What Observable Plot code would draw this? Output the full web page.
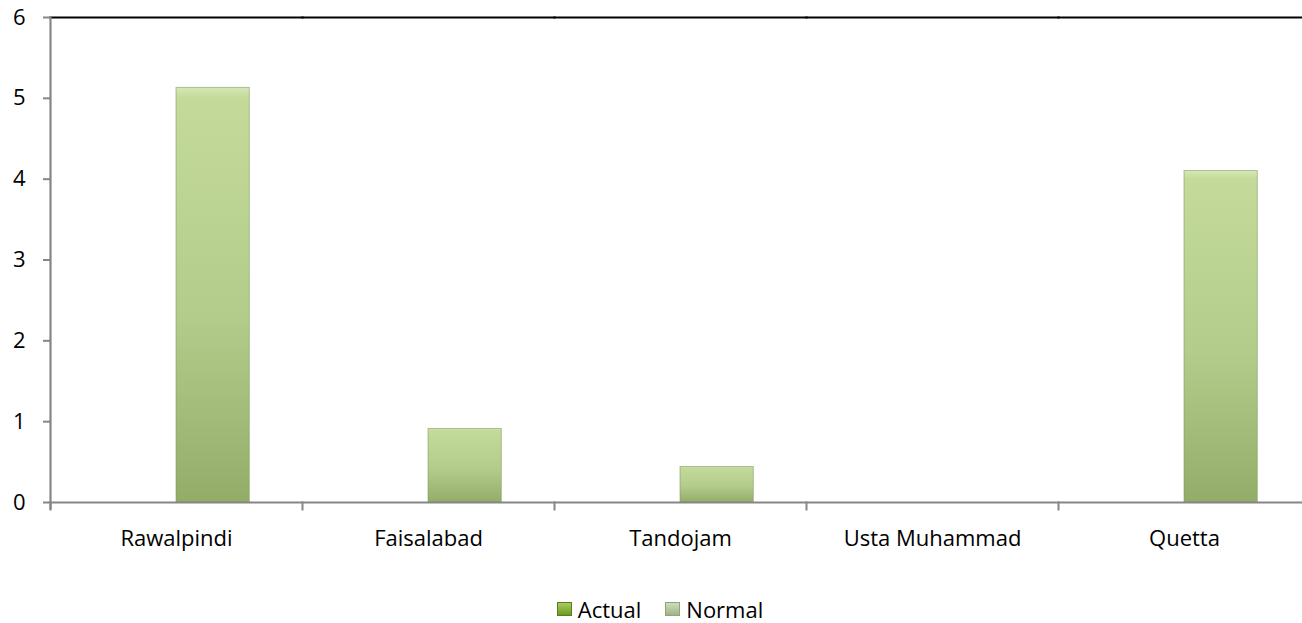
<!DOCTYPE html>
<html><head><meta charset="utf-8">
<script src="https://cdn.jsdelivr.net/npm/d3@7"></script>
<script src="https://cdn.jsdelivr.net/npm/@observablehq/plot@0.6"></script>
<style>
html,body{margin:0;padding:0;background:#fff;overflow:hidden;width:1302px;height:623px}
body{font-family:"Open Sans",sans-serif;position:relative}
#chart{position:absolute;left:0;top:0}
#chart svg{max-width:none !important}
#legend{position:absolute;left:0;width:1302px;top:594px;display:flex;justify-content:center;padding-left:18px;box-sizing:border-box;font-size:22px;color:#000}
.item{display:flex;align-items:center;margin:0 12px}
.sw{width:15px;height:14px;margin-right:6px;box-sizing:border-box}
</style></head><body>
<div id="chart"></div>
<div id="legend"></div>
<script>
const categories = ["Rawalpindi", "Faisalabad", "Tandojam", "Usta Muhammad", "Quetta"];
const series = ["Actual", "Normal"];
const actual = [0, 0, 0, 0, 0];
const normal = [5.13, 0.91, 0.44, 0, 4.1];
const yTicks = [0, 1, 2, 3, 4, 5, 6];

const actualData = categories.map((c, i) => ({category: c, series: "Actual", value: actual[i]}));
const normalData = categories.map((c, i) => ({category: c, series: "Normal", value: normal[i]}));

const plot = Plot.plot({
  width: 1310,
  height: 570,
  marginLeft: 50,
  marginRight: 0,
  marginTop: 17,
  marginBottom: 68,
  style: {fontFamily: "'Open Sans', sans-serif", fontSize: "22px", color: "#000", background: "transparent", overflow: "visible", maxWidth: "none"},
  fx: {domain: categories, paddingInner: 0, paddingOuter: 0, round: false, label: null},
  x: {domain: series, paddingInner: 0, paddingOuter: 0.72, round: false, axis: null},
  y: {domain: [0, 6], label: null},
  marks: [
    Plot.barY(actualData, {fx: "category", x: "series", y: "value", fill: "url(#gradA)", filter: d => d.value > 0}),
    Plot.barY(normalData, {fx: "category", x: "series", y: "value", fill: "url(#gradN)", stroke: "#7d9858", strokeWidth: 0.8, strokeOpacity: 0.7, filter: d => d.value > 0, style: "filter:url(#shadow)"}),
    Plot.frame({anchor: "top", stroke: "#000", strokeWidth: 2.2}),
    Plot.ruleY([0], {stroke: "#868686", strokeWidth: 2.2}),
    Plot.frame({anchor: "left", stroke: "#868686", strokeWidth: 2.2, facetAnchor: "left", insetBottom: -6}),
    Plot.frame({anchor: "left", stroke: "#868686", strokeWidth: 2, insetTop: 485, insetBottom: -7}),
    Plot.axisY({ticks: yTicks, tickFormat: "d", tickSize: 7, tickPadding: 18, stroke: "#868686", strokeWidth: 2, fill: "#000", fontSize: 22, label: null}),
    Plot.axisFx({anchor: "bottom", tickSize: 0, tickPadding: 28, fill: "#000", fontSize: 22, label: null})
  ]
});

const svg = d3.select(plot);
const defs = svg.insert("defs", ":first-child");
const gN = defs.append("linearGradient").attr("id", "gradN").attr("x1", 0).attr("y1", 0).attr("x2", 0).attr("y2", 1);
gN.append("stop").attr("offset", "0%").attr("stop-color", "#d6e8b8");
gN.append("stop").attr("offset", "2.5%").attr("stop-color", "#c3da9b");
gN.append("stop").attr("offset", "55%").attr("stop-color", "#b4cc8b");
gN.append("stop").attr("offset", "100%").attr("stop-color", "#93ad69");
const gA = defs.append("linearGradient").attr("id", "gradA").attr("x1", 0).attr("y1", 0).attr("x2", 0).attr("y2", 1);
gA.append("stop").attr("offset", "0%").attr("stop-color", "#9bbb59");
gA.append("stop").attr("offset", "100%").attr("stop-color", "#5f7f2a");
const f = defs.append("filter").attr("id", "shadow").attr("x", "-10%").attr("y", "-10%").attr("width", "130%").attr("height", "130%");
f.append("feDropShadow").attr("dx", 2).attr("dy", 2).attr("stdDeviation", 1.5).attr("flood-color", "#000").attr("flood-opacity", 0.25);

document.getElementById("chart").appendChild(plot);

const legendColors = {Actual: "linear-gradient(#a8cc5e,#6d9a22)", Normal: "linear-gradient(#cfdcb8,#9fb487)"};
const legend = d3.select("#legend");
for (const s of series) {
  const it = legend.append("div").attr("class", "item");
  it.append("div").attr("class", "sw").style("background", legendColors[s]).style("border", "1px solid " + (s === "Actual" ? "#5a7d22" : "#8fa47a"));
  it.append("span").text(s);
}
</script>
</body></html>
